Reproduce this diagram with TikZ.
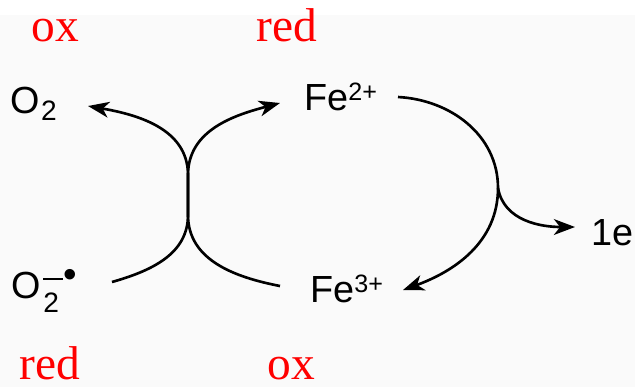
\documentclass[tikz,border=0pt]{standalone}
\usepackage{fontspec}
\setmainfont{Liberation Serif}
\setsansfont{Liberation Sans}
\usepackage{tikz}
\usetikzlibrary{arrows.meta,calc}
\definecolor{bggrey}{RGB}{250,250,250}
\newcommand{\supsz}{\fontsize{14.3}{15}\selectfont}
\newcommand{\subsz}{\fontsize{16}{17}\selectfont}

\begin{document}
\begin{tikzpicture}[x=0.02cm, y=0.02cm,
  spec/.style={font=\sffamily\fontsize{21.5}{25}\selectfont, inner sep=0, anchor=base west},
  redox/.style={font=\fontsize{27}{30}\selectfont, text=red, inner sep=0, anchor=base},
  arr/.style={line width=1.5pt, -{Stealth[length=12pt,width=9pt,inset=3.5pt]}}
]
\useasboundingbox (0,0) rectangle (635,-387);
\fill[bggrey] (0,-15) rectangle (635,-387);

% species
\node[spec] (o2) at (10,-113) {O\kern0.8pt\raisebox{-4.5pt}{\subsz 2}};
\node[spec] (o2r) at (11,-298) {O\kern1.5pt\rlap{\raisebox{-8pt}{\subsz 2}}%
  \raisebox{10.2pt}{\rule{11pt}{1.2pt}}\kern0.5pt\raisebox{5.8pt}{\fontsize{22}{22}\selectfont •}};
\node[spec] (fe2) at (304,-110) {Fe\raisebox{5.2pt}{\supsz 2+}};
\node[spec] (fe3) at (310,-302) {Fe\raisebox{5.2pt}{\supsz 3+}};
\node[spec] (e1) at (591,-245) {1e};

% ox / red labels
\foreach \n/\x/\y/\t in {ox1/55/-41/ox, red1/287/-41/red, red2/50/-379/red, ox2/291/-379/ox}
  \node[redox] (\n) at (\x,\y) {\t};

% where the two arcs touch, and the branch point
\coordinate (tlo) at (188,-215);
\coordinate (thi) at (188,-175);
\coordinate (rt) at (498,-188);

\draw[arr] ($(o2r.base west)+(101,16)$) to[out=16,in=-90] (tlo) -- (thi)
  to[out=90,in=-10] ($(o2.base west)+(78,7)$);
\draw[arr] ($(fe3.base west)+(-30,16)$) to[out=169,in=-90] (tlo) -- (thi)
  to[out=90,in=195] ($(fe2.base west)+(-24,7)$);
\draw[arr] ($(fe2.base west)+(94,13)$) to[out=-3,in=90] (rt)
  to[out=-90,in=20] ($(fe3.base west)+(93,12)$);
\draw[arr] (rt) to[out=-80,in=180] ($(e1.base west)+(-16,18)$);
\end{tikzpicture}
\end{document}
